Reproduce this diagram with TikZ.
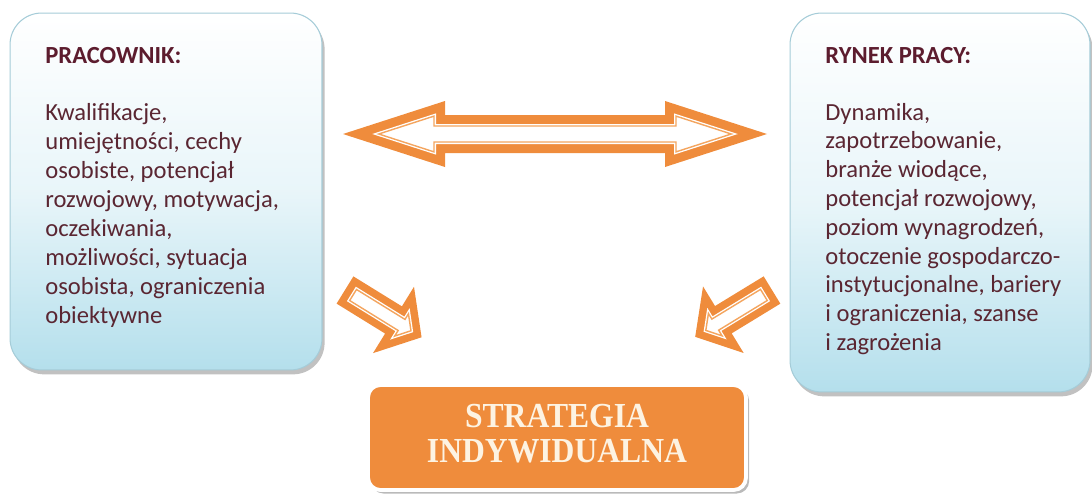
\documentclass[tikz,border=0pt]{standalone}
\usepackage{fontspec}
\setmainfont{Carlito}
\newfontfamily\stratfont[FakeStretch=0.9]{Liberation Serif}
\usetikzlibrary{shadows}

\definecolor{org}{RGB}{239,140,60}
\definecolor{orgl}{RGB}{244,165,95}
\definecolor{txt}{RGB}{90,38,50}
\definecolor{ttl}{RGB}{92,28,46}
\definecolor{boxbot}{RGB}{180,223,236}
\definecolor{boxedge}{RGB}{165,204,216}
\definecolor{stxt}{RGB}{253,243,226}

% single block arrow: #1 options, #2 total length, #3 head length, #4 head half-width, #5 shaft half-width, #6 inset
\newcommand\blkarrow[6]{%
  \pgfmathsetmacro\arN{sqrt((#3)^2+(#4)^2)}%
  \pgfmathsetmacro\arB{#2-#3+#6}%
  \pgfmathsetmacro\arW{#4-#6*(#4+\arN)/#3}%
  \pgfmathsetmacro\arT{#2-#6*\arN/#4}%
  \pgfmathsetmacro\arS{#5-#6}%
  \path[#1] (#6,\arS) -- (\arB,\arS) -- (\arB,\arW) -- (\arT,0) -- (\arB,-\arW) -- (\arB,-\arS) -- (#6,-\arS) -- cycle;
}
% double block arrow: #1 options, #2 total length, #3 head length, #4 head half-width, #5 shaft half-width, #6 inset
\newcommand\dblarrow[6]{%
  \pgfmathsetmacro\arN{sqrt((#3)^2+(#4)^2)}%
  \pgfmathsetmacro\arBa{#3-#6}%
  \pgfmathsetmacro\arBb{#2-#3+#6}%
  \pgfmathsetmacro\arW{#4-#6*(#4+\arN)/#3}%
  \pgfmathsetmacro\arTa{#6*\arN/#4}%
  \pgfmathsetmacro\arTb{#2-\arTa}%
  \pgfmathsetmacro\arS{#5-#6}%
  \path[#1] (\arTa,0) -- (\arBa,\arW) -- (\arBa,\arS) -- (\arBb,\arS) -- (\arBb,\arW) -- (\arTb,0)
     -- (\arBb,-\arW) -- (\arBb,-\arS) -- (\arBa,-\arS) -- (\arBa,-\arW) -- cycle;
}

\tikzset{
  infobox/.style={draw=boxedge, line width=0.6pt, rounded corners=18pt,
    top color=white, bottom color=boxbot, middle color=boxbot!30,
    drop shadow={shadow xshift=1.5pt, shadow yshift=-2.5pt, opacity=0.35, fill=black!70}},
  stratbox/.style={fill=org, draw=white, line width=2.2pt, rounded corners=7pt,
    drop shadow={shadow xshift=1.8pt, shadow yshift=-2pt, opacity=0.45, fill=black!60}},
  ttltxt/.style={anchor=base west, inner sep=0pt, text=ttl, font=\fontsize{14}{17}\selectfont\bfseries},
  bodytxt/.style={anchor=base west, inner sep=0pt, text=txt, font=\fontsize{14}{17}\selectfont},
  strtxt/.style={anchor=base, inner sep=0pt, text=stxt, font=\stratfont\fontsize{20}{24}\selectfont\bfseries},
  arrfill/.style={fill=org},
  arrhole/.style={fill=white},
  arrline/.style={draw=orgl, line width=0.8pt, line join=miter}
}

\begin{document}
\begin{tikzpicture}[x=0.02cm, y=-0.02cm]
\useasboundingbox (0,0) rectangle (1092,497);

% boxes
\node[infobox, minimum width=6.24cm, minimum height=7.14cm] (prac) at (166,191.5) {};
\node[infobox, minimum width=6.0cm, minimum height=7.58cm] (rynek) at (940,202.5) {};
\node[stratbox, minimum width=7.56cm, minimum height=2.1cm] (strat) at (557,437.5) {};

% texts left
\node[ttltxt] (pt) at (45,63) {PRACOWNIK:};
\foreach \t [count=\i] in {{Kwalifikacje,},{umiejętności, cechy},{osobiste, potencjał},{rozwojowy, motywacja,},{oczekiwania,},{możliwości, sytuacja},{osobista, ograniczenia},{obiektywne}}
  \node[bodytxt] (pl\i) at (45,{120+29*(\i-1)}) {\t};

% texts right
\node[ttltxt] (rt) at (825,63) {RYNEK PRACY:};
\foreach \t [count=\i] in {{Dynamika,},{zapotrzebowanie,},{branże wiodące,},{potencjał rozwojowy,},{poziom wynagrodzeń,},{otoczenie gospodarczo-},{instytucjonalne, bariery},{i ograniczenia, szanse},{i zagrożenia}}
  \node[bodytxt] (rl\i) at (825,{120+28.8*(\i-1)}) {\t};

% strategy text
\node[strtxt] (s1) at (557,427) {STRATEGIA};
\node[strtxt] (s2) at (557,462) {INDYWIDUALNA};

% double arrow
\begin{scope}[shift={(343,134)}]
  \dblarrow{arrfill}{424}{102}{33}{19}{0}
  \dblarrow{arrhole}{424}{102}{33}{19}{9}
  \dblarrow{arrline}{424}{102}{33}{19}{11}
\end{scope}

% left diagonal arrow
\begin{scope}[shift={(345,290)}, rotate=-31.7]
  \blkarrow{arrfill}{90}{33}{39}{16}{0}
  \blkarrow{arrhole}{90}{33}{39}{16}{7.5}
  \blkarrow{arrline}{90}{33}{39}{16}{9.5}
\end{scope}

% right diagonal arrow
\begin{scope}[shift={(772,290)}, rotate=-148.6]
  \blkarrow{arrfill}{90}{33}{39}{16}{0}
  \blkarrow{arrhole}{90}{33}{39}{16}{7.5}
  \blkarrow{arrline}{90}{33}{39}{16}{9.5}
\end{scope}
\end{tikzpicture}
\end{document}
